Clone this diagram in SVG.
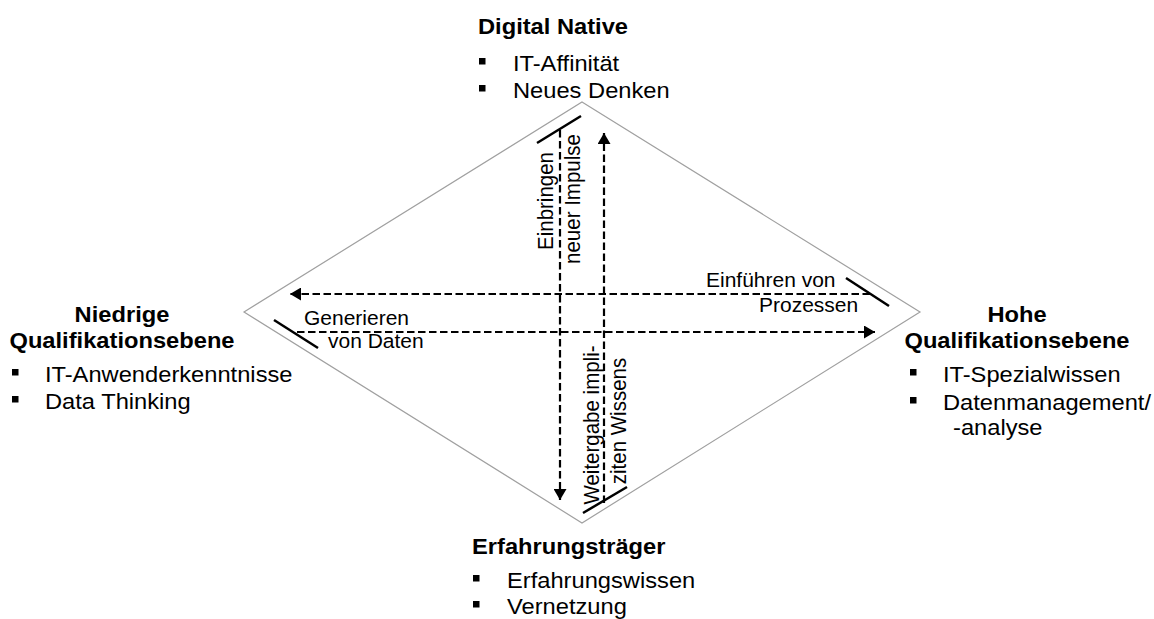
<svg xmlns="http://www.w3.org/2000/svg" width="1154" height="619" viewBox="0 0 1154 619">
  <style>
    text { font-family: "Liberation Sans", Arial, sans-serif; fill: #000; }
    .head { font-size: 22.5px; font-weight: bold; }
    .item { font-size: 22.5px; }
    .lbl { font-size: 19.5px; }
    .vlbl { font-size: 20.5px; }
    .bullet { fill: #000; }
    .frame { fill: none; stroke: #a0a0a0; stroke-width: 1.2; }
    .flow { fill: none; stroke: #000; stroke-width: 2.2; stroke-dasharray: 7.5 3.5; }
    .tick { stroke: #000; stroke-width: 2.5; }
  </style>
  <defs>
    <marker id="head" markerUnits="userSpaceOnUse" markerWidth="12" markerHeight="13" refX="11" refY="6.5" orient="auto">
      <path d="M0,0 L11,6.5 L0,13 z" fill="#000"/>
    </marker>
  </defs>
  <rect width="1154" height="619" fill="#fff"/>

  <!-- frame diamond -->
  <polygon class="frame" points="582,102 920,312 582,523 244,312"/>

  <!-- flows between the four roles -->
  <g id="connectors">
    <path class="flow" d="M560,130 L560,500" marker-end="url(#head)"/>
    <path class="flow" d="M604,503 L604,133" marker-end="url(#head)"/>
    <path class="flow" d="M870,294 L290,294" marker-end="url(#head)"/>
    <path class="flow" d="M297,332 L875,332" marker-end="url(#head)"/>
    <line class="tick" x1="537" y1="143" x2="581" y2="116"/>
    <line class="tick" x1="846" y1="278" x2="889" y2="306"/>
    <line class="tick" x1="274" y1="320" x2="318" y2="348"/>
    <line class="tick" x1="583" y1="513" x2="627" y2="487"/>
    <text class="vlbl" text-anchor="middle" transform="translate(553 201) scale(1.077 1) rotate(-90)">Einbringen</text>
    <text class="vlbl" text-anchor="middle" transform="translate(580 199) scale(1.077 1) rotate(-90)">neuer Impulse</text>
    <text class="vlbl" text-anchor="middle" transform="translate(599 425) scale(1.077 1) rotate(-90)">Weitergabe impli-</text>
    <text class="vlbl" text-anchor="middle" transform="translate(626 421) scale(1.077 1) rotate(-90)">ziten Wissens</text>
    <text class="lbl" transform="translate(706 287) scale(1.077 1)">Einführen von</text>
    <text class="lbl" transform="translate(759 312) scale(1.077 1)">Prozessen</text>
    <text class="lbl" transform="translate(304 325) scale(1.077 1)">Generieren</text>
    <text class="lbl" transform="translate(328 348) scale(1.077 1)">von Daten</text>
  </g>

  <!-- top: Digital Native -->
  <g id="digital-native">
    <text class="head" transform="translate(478 34) scale(1.053 1)">Digital Native</text>
    <rect class="bullet" x="479" y="58" width="6.5" height="6.5"/>
    <text class="item" transform="translate(513 71) scale(1.053 1)">IT-Affinität</text>
    <rect class="bullet" x="479" y="85" width="6.5" height="6.5"/>
    <text class="item" transform="translate(513 98) scale(1.053 1)">Neues Denken</text>
  </g>

  <!-- left: low qualification level -->
  <g id="niedrige-qualifikation">
    <text class="head" text-anchor="middle" transform="translate(122 322) scale(1.053 1)">Niedrige</text>
    <text class="head" text-anchor="middle" transform="translate(122 348) scale(1.053 1)">Qualifikationsebene</text>
    <rect class="bullet" x="12" y="369" width="6.5" height="6.5"/>
    <text class="item" transform="translate(45 382) scale(1.053 1)">IT-Anwenderkenntnisse</text>
    <rect class="bullet" x="12" y="396" width="6.5" height="6.5"/>
    <text class="item" transform="translate(45 409) scale(1.053 1)">Data Thinking</text>
  </g>

  <!-- right: high qualification level -->
  <g id="hohe-qualifikation">
    <text class="head" text-anchor="middle" transform="translate(1017 322) scale(1.053 1)">Hohe</text>
    <text class="head" text-anchor="middle" transform="translate(1017 348) scale(1.053 1)">Qualifikationsebene</text>
    <rect class="bullet" x="910" y="369" width="6.5" height="6.5"/>
    <text class="item" transform="translate(943 382) scale(1.053 1)">IT-Spezialwissen</text>
    <rect class="bullet" x="910" y="397" width="6.5" height="6.5"/>
    <text class="item" transform="translate(943 410) scale(1.053 1)">Datenmanagement/</text>
    <text class="item" transform="translate(953 435) scale(1.053 1)">-analyse</text>
  </g>

  <!-- bottom: experienced staff -->
  <g id="erfahrungstraeger">
    <text class="head" transform="translate(472 554) scale(1.053 1)">Erfahrungsträger</text>
    <rect class="bullet" x="473" y="575" width="6.5" height="6.5"/>
    <text class="item" transform="translate(507 588) scale(1.053 1)">Erfahrungswissen</text>
    <rect class="bullet" x="473" y="601" width="6.5" height="6.5"/>
    <text class="item" transform="translate(507 614) scale(1.053 1)">Vernetzung</text>
  </g>
</svg>
